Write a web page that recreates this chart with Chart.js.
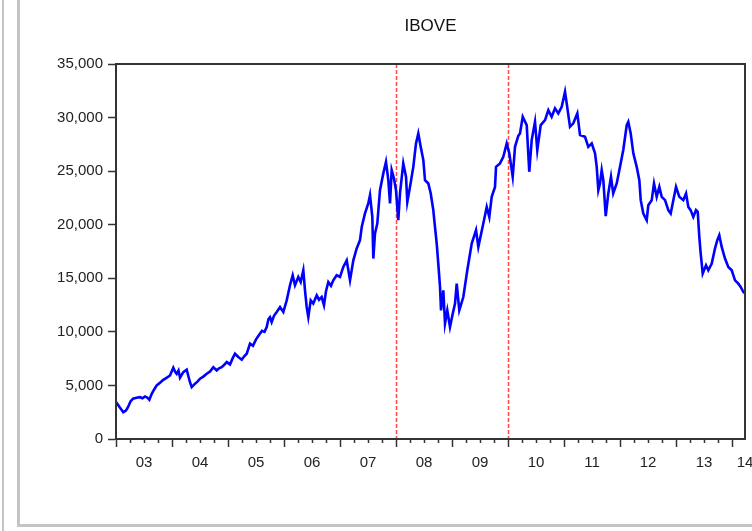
<!DOCTYPE html>
<html>
<head>
<meta charset="utf-8">
<title>IBOVE</title>
<script src="https://cdn.jsdelivr.net/npm/chart.js@4/dist/chart.umd.min.js"></script>
<style>
  html, body { margin: 0; padding: 0; background: #fff; }
  #wrap { position: relative; width: 752px; height: 531px; overflow: hidden; }
  .frame { position: absolute; background: #c4c4c4; }
  #c { position: absolute; left: 0; top: 0; }
</style>
</head>
<body>
<div id="wrap">
  <div class="frame" style="left:2px;top:0;width:2px;height:531px"></div>
  <div class="frame" style="left:17px;top:0;width:3px;height:527px"></div>
  <div class="frame" style="left:17px;top:524px;width:735px;height:3px"></div>
  <canvas id="c" width="752" height="531"></canvas>
</div>
<script>
// Observation dates as decimal years
const dates = [
  2003.000, 2003.060, 2003.130, 2003.177, 2003.214, 2003.259, 2003.304, 2003.366, 2003.429, 2003.473,
  2003.518, 2003.563, 2003.595, 2003.638, 2003.679, 2003.727, 2003.786, 2003.845, 2003.902, 2003.964,
  2004.023, 2004.054, 2004.084, 2004.116, 2004.143, 2004.202, 2004.263, 2004.289, 2004.321, 2004.352,
  2004.411, 2004.455, 2004.500, 2004.554, 2004.620, 2004.679, 2004.738, 2004.798, 2004.839, 2004.888,
  2004.929, 2004.977, 2005.036, 2005.080, 2005.125, 2005.184, 2005.245, 2005.286, 2005.334, 2005.393,
  2005.446, 2005.500, 2005.554, 2005.607, 2005.652, 2005.691, 2005.723, 2005.750, 2005.780, 2005.821,
  2005.870, 2005.929, 2005.988, 2006.048, 2006.107, 2006.155, 2006.196, 2006.255, 2006.298, 2006.345,
  2006.375, 2006.405, 2006.434, 2006.477, 2006.523, 2006.584, 2006.625, 2006.673, 2006.714, 2006.750,
  2006.791, 2006.839, 2006.880, 2006.941, 2007.000, 2007.059, 2007.120, 2007.179, 2007.238, 2007.298,
  2007.357, 2007.388, 2007.446, 2007.505, 2007.536, 2007.577, 2007.595, 2007.625, 2007.666, 2007.714,
  2007.773, 2007.821, 2007.863, 2007.893, 2007.923, 2007.964, 2008.000, 2008.041, 2008.071, 2008.130,
  2008.179, 2008.202, 2008.250, 2008.309, 2008.357, 2008.398, 2008.441, 2008.488, 2008.518, 2008.577,
  2008.620, 2008.666, 2008.696, 2008.727, 2008.755, 2008.786, 2008.804, 2008.845, 2008.875, 2008.916,
  2008.964, 2009.013, 2009.054, 2009.084, 2009.130, 2009.202, 2009.273, 2009.352, 2009.429, 2009.470,
  2009.559, 2009.620, 2009.666, 2009.709, 2009.768, 2009.786, 2009.857, 2009.916, 2009.977, 2010.023,
  2010.084, 2010.125, 2010.184, 2010.214, 2010.263, 2010.334, 2010.380, 2010.423, 2010.482, 2010.523,
  2010.584, 2010.661, 2010.720, 2010.780, 2010.839, 2010.898, 2010.959, 2011.018, 2011.048, 2011.107,
  2011.166, 2011.238, 2011.286, 2011.375, 2011.434, 2011.495, 2011.554, 2011.584, 2011.613, 2011.643,
  2011.673, 2011.702, 2011.745, 2011.791, 2011.839, 2011.879, 2011.941, 2011.988, 2012.059, 2012.120,
  2012.148, 2012.191, 2012.238, 2012.298, 2012.345, 2012.370, 2012.416, 2012.477, 2012.505, 2012.566,
  2012.607, 2012.655, 2012.702, 2012.745, 2012.804, 2012.863, 2012.905, 2012.952, 2013.000, 2013.059,
  2013.130, 2013.179, 2013.220, 2013.261, 2013.309, 2013.357, 2013.388, 2013.416, 2013.441, 2013.477,
  2013.536, 2013.577, 2013.638, 2013.696, 2013.737, 2013.773, 2013.816, 2013.875, 2013.934, 2013.995,
  2014.054, 2014.113, 2014.155, 2014.202, 2014.232
];

// IBOVE index level
const ibove = [
   3450,  3000,  2500,  2650,  2970,  3500,  3760,  3850,  3900,  3800,
   3970,  3850,  3660,  4220,  4600,  5000,  5250,  5530,  5700,  5930,
   6650,  6300,  6090,  6400,  5720,  6240,  6470,  5930,  5300,  4840,
   5160,  5350,  5630,  5800,  6090,  6300,  6710,  6400,  6600,  6710,
   6900,  7180,  6960,  7500,  7960,  7650,  7400,  7700,  7960,  8900,
   8700,  9300,  9700, 10100, 10000, 10450, 11200, 11380, 10920, 11500,
  11850, 12320, 11850, 12940, 14350, 15280, 14350, 15120, 14650, 15750,
  13880, 12320, 11380, 12940, 12640, 13410, 13000, 13250, 12480, 13800,
  14650, 14300, 14810, 15280, 15120, 16060, 16680, 14810, 16680, 17780,
  18550, 19790, 21050, 21980, 22760, 20730, 16840, 19180, 20110, 23220,
  24790, 25870, 24160, 21980, 25090, 24320, 23220, 20420, 22920, 25720,
  24470, 22130, 23530, 25400, 27590, 28520, 27270, 26030, 24160, 23850,
  22920, 21360, 19790, 18240, 16370, 14190, 12010, 13880, 10770, 12010,
  10450, 11700, 12640, 14500, 12010, 13250, 15750, 18240, 19490, 17930,
  20110, 21660, 20730, 22600, 23530, 25400, 25720, 26340, 27590, 26660,
  24470, 27270, 28300, 28520, 30080, 29300, 24940, 27900, 29610, 26960,
  29300, 29770, 30700, 30080, 30860, 30390, 31010, 32410, 31330, 29140,
  29460, 30390, 28370, 28210, 27270, 27590, 26660, 25400, 23220, 23850,
  25090, 24160, 20800, 22920, 24470, 22920, 23850, 25090, 27000, 29300,
  29610, 28520, 26660, 25400, 24160, 22290, 21050, 20420, 21820, 22290,
  23850, 22600, 23530, 22600, 22290, 21360, 21050, 22290, 23530, 22600,
  22290, 22920, 21660, 21360, 20730, 21360, 21200, 18860, 17310, 15440,
  16210, 15750, 16370, 17780, 18550, 19020, 17930, 16840, 16060, 15750,
  14810, 14500, 14190, 13720, 13600
];

// Axis labels: two-digit years placed mid-year; the last one sits at the series end
const yearLabels   = ['03', '04', '05', '06', '07', '08', '09', '10', '11', '12', '13', '14'];
const yearLabelPos = [2003.5, 2004.5, 2005.5, 2006.5, 2007.5, 2008.5, 2009.5, 2010.5, 2011.5, 2012.5, 2013.5, 2014.232];
const yTickValues  = [0, 5000, 10000, 15000, 20000, 25000, 30000, 35000];

// Reference dates marked with dashed red verticals
const breakDates = [2008.0, 2010.0];

const X_MIN = 2003.0, X_MAX = 2014.232;
const AXIS_COLOR = '#333333';
const FONT = '"Liberation Sans", Arial, Helvetica, sans-serif';

const points = dates.map((d, i) => ({ x: d, y: ibove[i] }));

// Frame around the plot area
const plotFrame = {
  id: 'plotFrame',
  afterDraw(chart) {
    const { ctx, chartArea: a } = chart;
    ctx.save();
    ctx.strokeStyle = AXIS_COLOR;
    ctx.lineWidth = 2;
    ctx.strokeRect(a.left, a.top, a.right - a.left, a.bottom - a.top);
    ctx.restore();
  }
};

// Dashed vertical markers
const breakLines = {
  id: 'breakLines',
  beforeDatasetsDraw(chart) {
    const { ctx, chartArea: a, scales: { x } } = chart;
    ctx.save();
    ctx.strokeStyle = 'rgba(255, 40, 40, 0.85)';
    ctx.lineWidth = 1.5;
    ctx.setLineDash([4, 2]);
    breakDates.forEach(d => {
      const px = Math.round(x.getPixelForValue(d)) + 0.5;
      ctx.beginPath();
      ctx.moveTo(px, a.top);
      ctx.lineTo(px, a.bottom);
      ctx.stroke();
    });
    ctx.restore();
  }
};

// Quarterly tick marks below the time axis, longer at each year start
const quarterTicks = {
  id: 'quarterTicks',
  afterDraw(chart) {
    const { ctx, chartArea: a, scales: { x } } = chart;
    ctx.save();
    ctx.strokeStyle = AXIS_COLOR;
    ctx.lineWidth = 1.5;
    for (let q = 0; X_MIN + q * 0.25 <= X_MAX + 1e-9; q++) {
      const v = X_MIN + q * 0.25;
      const len = (q % 4 === 0) ? 8 : 4;
      const px = Math.round(x.getPixelForValue(v)) + 0.5;
      ctx.beginPath();
      ctx.moveTo(px, a.bottom);
      ctx.lineTo(px, a.bottom + len);
      ctx.stroke();
    }
    ctx.restore();
  }
};

new Chart(document.getElementById('c'), {
  type: 'line',
  data: {
    datasets: [{
      label: 'IBOVE',
      data: points,
      borderColor: '#0000ff',
      borderWidth: 2.6,
      pointRadius: 0,
      tension: 0,
      fill: false
    }]
  },
  options: {
    responsive: false,
    animation: false,
    devicePixelRatio: 1,
    layout: { padding: { left: 0, right: 7, top: 0, bottom: 0 } },
    plugins: {
      legend: { display: false },
      tooltip: { enabled: false },
      title: {
        display: true,
        fullSize: false,
        text: 'IBOVE',
        color: '#111',
        font: { family: FONT, size: 17, weight: 'normal' },
        padding: { top: 16, bottom: 27.6 }
      }
    },
    scales: {
      x: {
        type: 'linear',
        min: X_MIN,
        max: X_MAX,
        afterBuildTicks(scale) {
          scale.ticks = yearLabelPos.map(v => ({ value: v }));
        },
        afterFit(scale) {
          scale.height = 92;
          scale.paddingLeft = 0;
          scale.paddingRight = 0;
        },
        grid: { display: false },
        border: { display: true, color: AXIS_COLOR, width: 2 },
        ticks: {
          autoSkip: false,
          maxRotation: 0,
          minRotation: 0,
          padding: 7,
          color: '#222',
          font: { family: FONT, size: 15 },
          callback(value, index) { return yearLabels[index]; }
        }
      },
      y: {
        min: 0,
        max: 35000,
        afterBuildTicks(scale) {
          scale.ticks = yTickValues.map(v => ({ value: v }));
        },
        afterFit(scale) { scale.width = 116; },
        grid: {
          display: true,
          drawOnChartArea: false,
          drawTicks: true,
          tickLength: 8,
          tickColor: AXIS_COLOR,
          tickWidth: 1.5
        },
        border: { display: true, color: AXIS_COLOR, width: 2 },
        ticks: {
          padding: 5,
          color: '#222',
          font: { family: FONT, size: 15 },
          callback(value) { return value.toLocaleString('en-US'); }
        }
      }
    }
  },
  plugins: [breakLines, plotFrame, quarterTicks]
});
</script>
</body>
</html>
